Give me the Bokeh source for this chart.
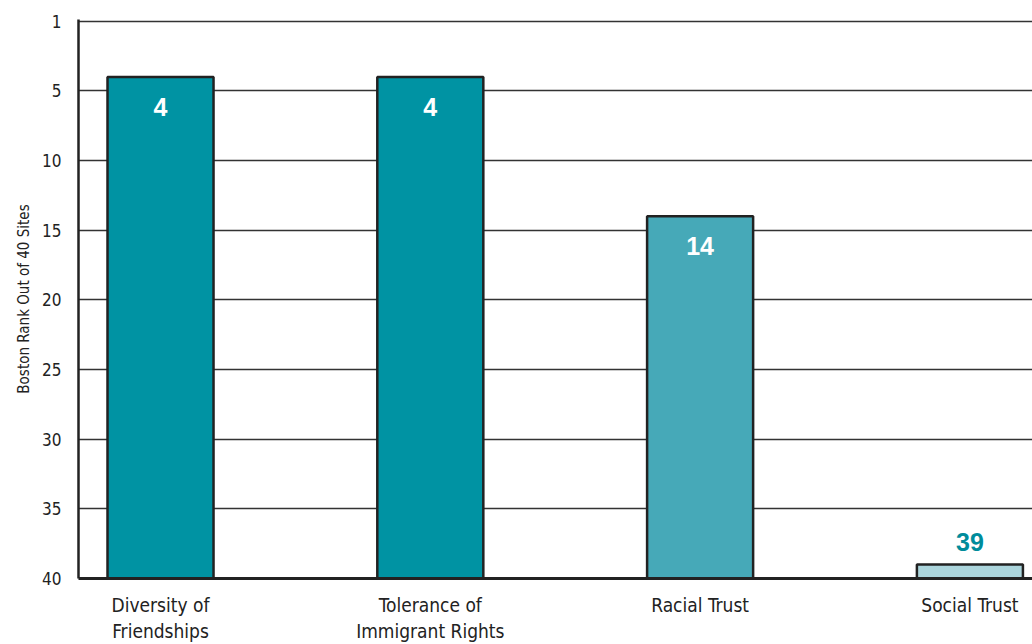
from bokeh.plotting import figure
from bokeh.models import Range1d, FixedTicker, ColumnDataSource
from bokeh.core.properties import value
from bokeh.embed import file_html
from bokeh.resources import INLINE

categories = ["Diversity of\nFriendships", "Tolerance of\nImmigrant Rights", "Racial Trust", "Social Trust"]
ranks = [4, 4, 14, 39]
colors = ["#0093A3", "#0093A3", "#46A9B8", "#ABD5DC"]
label_colors = ["#FFFFFF", "#FFFFFF", "#FFFFFF", "#008C9B"]
label_offsets = [30, 30, 30, -23]
y_ticks = [0, 5, 10, 15, 20, 25, 30, 35, 40]
y_tick_labels = ["1", "5", "10", "15", "20", "25", "30", "35", "40"]

xs = list(range(len(categories)))
FONT = "Liberation Sans Narrow, DejaVu Sans Condensed, sans-serif"

p = figure(width=1032, height=644, output_backend="svg", toolbar_location=None,
           x_range=Range1d(-0.304, 3.232), y_range=Range1d(40, -0.12),
           min_border_left=78, min_border_right=0, min_border_top=19, min_border_bottom=62)
p.outline_line_color = None
p.background_fill_color = "white"

src = ColumnDataSource(dict(x=xs, top=ranks, bottom=[40] * len(xs), color=colors,
                            lab=[str(r) for r in ranks], lc=label_colors, off=label_offsets))
p.vbar(x="x", top="top", bottom="bottom", width=0.393, fill_color="color",
       line_color="#222222", line_width=2.5, source=src)
p.text(x="x", y="top", text="lab", text_color="lc", y_offset="off", source=src,
       text_align="center", text_baseline="middle", text_font=value("Liberation Sans"),
       text_font_style="bold", text_font_size="25px")

p.xgrid.visible = False
p.ygrid.ticker = FixedTicker(ticks=y_ticks)
p.ygrid.grid_line_color = "#333333"
p.ygrid.grid_line_width = 1.3

p.yaxis.ticker = FixedTicker(ticks=y_ticks)
p.yaxis.major_label_overrides = {t: l for t, l in zip(y_ticks, y_tick_labels)}
p.yaxis.axis_label = "Boston Rank Out of 40 Sites"
p.yaxis.axis_label_text_font = FONT
p.yaxis.axis_label_text_font_style = "normal"
p.yaxis.axis_label_text_font_size = "15px"
p.yaxis.axis_label_text_color = "#222222"
p.yaxis.axis_label_standoff = 6
p.yaxis.major_label_text_font = FONT
p.yaxis.major_label_text_font_size = "17px"
p.yaxis.major_label_text_color = "#222222"
p.yaxis.major_tick_line_color = None
p.yaxis.minor_tick_line_color = None
p.yaxis.major_label_standoff = 11
p.yaxis.axis_line_color = "#222222"
p.yaxis.axis_line_width = 2.5

p.xaxis.ticker = FixedTicker(ticks=xs)
p.xaxis.major_label_overrides = {i: c for i, c in zip(xs, categories)}
p.xaxis.major_label_text_font = FONT
p.xaxis.major_label_text_font_size = "19px"
p.xaxis.major_label_text_color = "#222222"
p.xaxis.major_tick_line_color = None
p.xaxis.minor_tick_line_color = None
p.xaxis.major_label_standoff = 9
p.xaxis.axis_line_color = "#222222"
p.xaxis.axis_line_width = 3

open("out.html", "w").write(file_html(p, INLINE))
